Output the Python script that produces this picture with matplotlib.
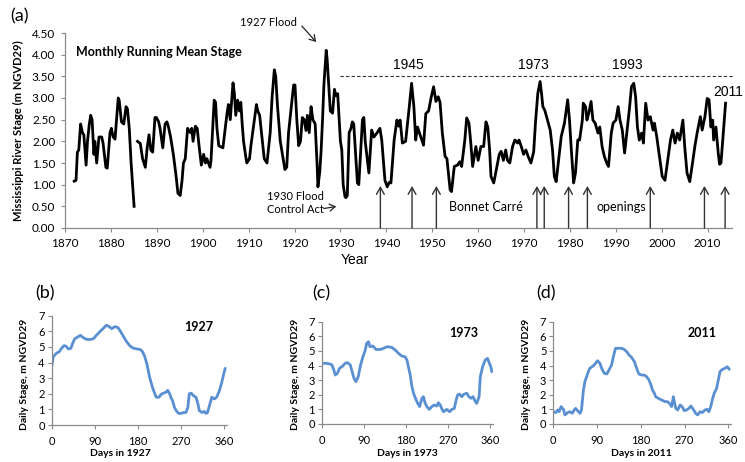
import numpy as np
import matplotlib
matplotlib.use("Agg")
import matplotlib.pyplot as plt

plt.rcParams['font.family'] = ['Lato', 'DejaVu Sans']

# ---------------- data: monthly running mean stage (panel a) ----------------
years_a1 = [1872.0, 1872.4, 1872.7, 1873.0, 1873.4, 1873.8, 1874.1, 1874.6, 1874.9, 1875.3,
            1875.6, 1875.9, 1876.3, 1876.5, 1876.9, 1877.4, 1878.0, 1878.3, 1878.9, 1879.2,
            1879.8, 1880.1, 1880.5, 1880.9, 1881.3, 1881.6, 1881.8, 1882.3, 1882.8, 1883.3,
            1883.6, 1884.0, 1884.4, 1885.05]
stage_a1 = [1.08, 1.10, 1.75, 1.80, 2.40, 2.20, 2.15, 1.45, 2.00, 2.40,
            2.60, 2.50, 1.70, 2.00, 1.50, 2.10, 2.10, 1.95, 1.40, 1.38,
            2.20, 2.30, 2.10, 2.05, 2.60, 3.00, 2.95, 2.45, 2.40, 2.80,
            2.75, 2.30, 1.50, 0.50]

years_a2 = [1885.8, 1886.4, 1886.9, 1887.2, 1887.5, 1887.9, 1888.3, 1888.7, 1889.1, 1889.6,
            1889.9, 1890.4, 1890.7, 1891.3, 1891.8, 1892.2, 1892.5, 1893.0, 1893.6, 1894.2,
            1894.6, 1895.1, 1895.5, 1895.8, 1896.2, 1896.7, 1897.3, 1897.6, 1897.9, 1898.4,
            1898.8, 1899.2, 1899.7, 1900.2, 1900.6, 1900.9, 1901.6, 1901.8, 1902.5, 1902.8,
            1903.1, 1903.5, 1904.4, 1905.3, 1905.6, 1906.0, 1906.6, 1906.9, 1907.2, 1907.6,
            1908.0, 1908.3, 1908.6, 1908.9, 1909.3, 1909.6, 1910.2, 1910.5, 1911.7, 1912.0,
            1912.4, 1912.8, 1913.4, 1914.0, 1914.7, 1915.1, 1915.6, 1915.9, 1916.3, 1916.9,
            1917.9, 1918.3, 1918.7, 1919.2, 1919.8, 1920.1, 1920.5, 1920.9, 1921.3, 1921.7,
            1922.1, 1922.5, 1922.8, 1923.2, 1923.6, 1924.0, 1924.5, 1924.9, 1925.1, 1925.5,
            1925.8, 1926.1, 1926.4, 1926.9, 1927.1, 1927.5, 1927.8, 1928.3, 1928.4, 1928.7,
            1929.0, 1929.4, 1930.0, 1930.3, 1930.6, 1931.0, 1931.2, 1931.5, 1931.9, 1932.3,
            1932.6, 1932.9, 1933.7, 1934.0, 1934.8, 1935.1, 1935.4, 1936.2, 1936.8, 1937.3,
            1938.0, 1938.6, 1939.0, 1939.7, 1940.2, 1940.6, 1941.0, 1941.7, 1942.3, 1942.7,
            1943.0, 1943.5, 1944.2, 1945.0, 1945.5, 1946.0, 1946.4, 1946.8, 1947.5, 1948.1,
            1948.6, 1949.2, 1949.8, 1950.3, 1950.8, 1951.3, 1951.7, 1952.2, 1952.8, 1953.2,
            1953.9, 1954.2, 1954.8, 1955.5, 1956.0, 1956.4, 1957.1, 1957.5, 1958.0, 1958.4,
            1958.8, 1959.5, 1960.0, 1960.6, 1961.2, 1961.7, 1962.1, 1962.5, 1962.8, 1963.4,
            1964.1, 1964.6, 1965.0, 1965.5, 1966.0, 1966.4, 1966.9, 1967.5, 1968.0, 1968.6,
            1968.9, 1969.4, 1969.9, 1970.4, 1970.9, 1971.5, 1972.1, 1972.5, 1973.0, 1973.5,
            1973.8, 1974.1, 1974.5, 1974.9, 1975.7, 1976.2, 1976.6, 1977.0, 1977.6, 1978.1,
            1978.8, 1979.5, 1979.9, 1980.3, 1980.8, 1981.2, 1981.7, 1982.1, 1982.7, 1982.9,
            1983.4, 1983.7, 1984.1, 1984.6, 1985.0, 1985.5, 1986.1, 1986.5, 1987.0, 1987.5,
            1988.0, 1988.4, 1989.0, 1989.4, 1990.0, 1990.5, 1990.9, 1991.4, 1991.9, 1992.3,
            1993.0, 1993.4, 1993.9, 1994.3, 1994.7, 1995.1, 1995.6, 1996.0, 1996.5, 1997.0,
            1997.5, 1998.1, 1998.4, 1998.9, 1999.5, 2000.1, 2000.7, 2001.4, 2001.9, 2002.4,
            2002.9, 2003.4, 2003.9, 2004.6, 2005.0, 2005.5, 2006.1, 2006.7, 2007.2, 2007.7,
            2008.4, 2008.8, 2009.4, 2009.9, 2010.3, 2010.7, 2011.1, 2011.3, 2011.8, 2012.3,
            2012.6, 2012.9, 2013.4, 2013.9]
stage_a2 = [2.00, 1.95, 1.60, 1.50, 1.40, 1.85, 2.15, 1.80, 1.75, 2.55,
            2.55, 2.45, 2.30, 1.85, 2.40, 2.45, 2.35, 2.10, 1.70, 1.20,
            0.80, 0.75, 1.10, 1.50, 1.60, 2.30, 2.20, 2.30, 2.00, 2.35,
            2.30, 1.90, 1.45, 1.70, 1.50, 1.60, 1.40, 1.55, 2.95, 2.90,
            2.30, 1.90, 1.85, 2.65, 2.85, 2.50, 3.35, 3.10, 2.60, 2.95,
            2.70, 2.90, 2.40, 2.00, 1.70, 1.50, 1.60, 1.90, 2.85, 2.70,
            2.60, 2.20, 1.60, 1.50, 2.20, 3.00, 3.65, 3.50, 2.80, 2.00,
            1.35, 1.40, 2.20, 2.70, 3.30, 3.30, 2.50, 1.90, 2.00, 2.55,
            2.50, 2.25, 2.60, 2.20, 2.80, 2.50, 2.40, 1.50, 0.95, 1.30,
            1.80, 2.50, 3.30, 4.10, 3.90, 3.20, 2.70, 2.65, 2.80, 3.20,
            3.05, 3.10, 2.00, 1.80, 1.00, 0.72, 0.70, 0.75, 2.20, 2.30,
            2.45, 2.40, 1.04, 1.00, 2.50, 2.55, 2.00, 1.27, 2.26, 2.10,
            2.20, 2.30, 2.03, 1.10, 0.95, 1.05, 1.04, 2.03, 2.49, 2.35,
            2.49, 1.96, 2.00, 2.80, 3.34, 2.80, 2.03, 2.33, 2.10, 1.91,
            2.64, 2.70, 3.03, 3.26, 2.92, 3.03, 2.90, 2.19, 1.65, 1.60,
            0.88, 0.84, 1.42, 1.45, 1.53, 1.42, 2.03, 2.54, 2.42, 1.96,
            1.42, 1.88, 1.56, 1.88, 1.88, 2.45, 2.33, 1.80, 1.19, 1.04,
            1.42, 1.70, 1.77, 1.56, 1.80, 1.56, 1.50, 1.88, 2.03, 1.96,
            2.03, 1.88, 1.70, 1.80, 1.65, 1.50, 1.76, 2.45, 3.11, 3.38,
            3.11, 2.80, 2.72, 2.57, 2.26, 1.80, 1.19, 1.07, 1.65, 2.11,
            2.42, 2.96, 2.49, 1.80, 1.04, 1.27, 2.03, 2.03, 2.49, 2.88,
            2.80, 2.49, 2.65, 2.92, 2.49, 2.42, 2.19, 2.33, 1.88, 1.65,
            1.50, 1.42, 2.19, 2.42, 2.49, 2.80, 2.49, 2.26, 1.73, 2.11,
            2.80, 3.26, 3.34, 3.03, 2.33, 2.03, 2.19, 1.96, 2.88, 2.49,
            2.57, 2.26, 2.42, 2.11, 1.65, 1.19, 1.10, 1.65, 2.03, 2.26,
            1.96, 2.19, 2.03, 2.49, 1.88, 1.27, 1.07, 1.50, 1.88, 2.19,
            2.57, 2.26, 2.57, 2.99, 2.96, 2.33, 2.49, 2.03, 2.33, 1.73,
            1.47, 1.50, 2.19, 2.88]

bonnet_carre_years = [1938.7, 1945.6, 1950.9, 1972.8, 1974.4, 1979.7, 1983.8, 1997.5, 2009.3, 2013.8]
flood_labels = ["1945", "1973", "1993", "2011"]

# ---------------- data: daily stage (panels b, c, d) ----------------
days_1927 = [0, 3.5, 10, 16, 21, 26, 30, 35, 40, 44, 48, 55, 60, 66, 73, 80, 87, 93, 100, 107,
             114, 120, 125, 132, 138, 143, 150, 157, 164, 171, 178, 185, 189, 194, 199, 204, 210,
             215, 218, 224, 228, 233, 239, 242, 246, 249, 252, 256, 260, 265, 270, 275, 280, 284,
             287, 291, 296, 301, 305, 308, 314, 318, 322, 325, 330, 334, 339, 344, 350, 355, 359, 362]
stage_1927 = [3.74, 4.39, 4.60, 4.70, 4.93, 5.09, 5.04, 4.87, 4.91, 5.26, 5.52, 5.65, 5.74, 5.59,
              5.48, 5.48, 5.52, 5.74, 5.96, 6.17, 6.39, 6.30, 6.17, 6.30, 6.24, 6.02, 5.65, 5.30,
              5.04, 4.91, 4.87, 4.83, 4.72, 4.39, 3.85, 3.09, 2.43, 2.00, 1.78, 1.78, 1.96, 2.04,
              2.11, 2.22, 2.00, 1.74, 1.56, 1.13, 0.91, 0.74, 0.74, 0.80, 0.80, 1.13, 2.00, 2.04,
              1.87, 1.78, 1.35, 0.91, 0.80, 0.87, 0.74, 0.80, 1.35, 1.78, 1.67, 1.78, 2.22, 2.76,
              3.30, 3.63]

days_1973 = [2, 10, 18, 22, 26, 29, 33.5, 38, 45, 50, 55, 61, 64, 69, 73, 78, 83, 88, 93, 96,
             100, 103, 109, 116, 125, 132, 140, 150, 157, 164, 171, 178, 182, 185, 189, 192, 196,
             201, 205, 209, 214, 217, 221, 224.5, 229.5, 235, 240, 246, 249, 253, 257, 260, 267,
             273, 278, 283, 287, 290, 294, 299, 304, 310, 314, 319, 323, 328, 331, 336, 338.6,
             343.5, 349, 354, 358, 361, 363]
stage_1973 = [4.15, 4.15, 4.10, 4.04, 3.69, 3.35, 3.47, 3.81, 3.97, 4.15, 4.20, 4.04, 3.69, 3.12,
              2.90, 3.24, 4.04, 4.60, 5.06, 5.52, 5.63, 5.29, 5.34, 5.10, 5.10, 5.18, 5.29, 5.24,
              5.06, 4.83, 4.65, 4.60, 4.38, 3.92, 3.35, 2.67, 2.10, 1.69, 1.41, 1.19, 1.76, 1.87,
              1.41, 1.19, 1.00, 1.19, 1.30, 1.23, 1.46, 1.30, 1.00, 0.84, 1.00, 0.84, 1.00, 1.07,
              1.64, 1.98, 2.05, 1.87, 2.05, 2.10, 1.87, 1.76, 1.87, 1.53, 1.41, 1.87, 3.24, 3.92,
              4.38, 4.49, 4.15, 3.92, 3.58]

days_2011 = [0, 5, 9, 12, 16, 21, 24, 29.5, 34, 39, 43, 46, 50, 55, 58, 62, 65, 71, 75, 82, 87,
             91, 96, 99.5, 105, 110, 114.5, 120, 123.5, 128, 134, 140.6, 146, 151, 156, 161, 167,
             171.5, 176, 182, 187, 192, 197, 201, 204, 208, 210.6, 216, 223, 230, 235, 240, 243.5,
             247, 249, 252, 256, 261, 265, 269.6, 274, 279, 283, 288, 293, 297, 302, 306.6, 312,
             317, 320, 324, 327, 331, 336, 339.5, 343, 348, 353, 358, 362]
stage_2011 = [0.84, 0.78, 0.96, 0.84, 1.19, 1.00, 0.62, 0.78, 0.84, 0.73, 0.96, 1.07, 0.91, 0.73,
              0.96, 2.33, 2.90, 3.47, 3.81, 3.97, 4.15, 4.33, 4.15, 3.81, 3.47, 3.42, 3.69, 4.04,
              4.60, 5.18, 5.18, 5.18, 5.10, 4.95, 4.72, 4.56, 4.26, 3.81, 3.42, 3.35, 3.35, 3.24,
              3.01, 2.67, 2.33, 2.10, 1.87, 1.76, 1.64, 1.53, 1.53, 1.37, 1.19, 1.87, 1.53, 1.07,
              0.96, 1.30, 1.19, 0.91, 0.96, 1.07, 1.23, 1.00, 0.73, 0.62, 0.84, 0.78, 0.96, 1.00,
              0.84, 1.19, 1.64, 2.10, 2.44, 3.01, 3.58, 3.74, 3.81, 3.92, 3.74]

# ---------------- figure ----------------
W, H = 745, 462
fig = plt.figure(figsize=(W / 100, H / 100), dpi=100)
fig.patch.set_facecolor('white')

def fx(px):
    return px / W

def fy(py):
    return 1 - py / H

SPINE = '#8a8a8a'
BLUE = '#5a8fd2'

def style_axes(ax, labsize):
    for s in ['top', 'right']:
        ax.spines[s].set_visible(False)
    for s in ['left', 'bottom']:
        ax.spines[s].set_color(SPINE)
        ax.spines[s].set_linewidth(0.9)
    ax.tick_params(direction='out', length=3, width=0.8, color=SPINE,
                   labelsize=labsize, labelcolor='black', pad=2)

# Panel (a)
axa = fig.add_axes([fx(65), fy(228), fx(732 - 65), (228 - 33) / H])
axa.plot(years_a1, stage_a1, color='black', lw=2.0, solid_joinstyle='round')
axa.plot(years_a2, stage_a2, color='black', lw=2.0, solid_joinstyle='round')
axa.set_xlim(1870, 2015.3)
axa.set_ylim(0, 4.5)
axa.set_xticks(np.arange(1870, 2011, 10))
axa.set_yticks(np.arange(0, 4.51, 0.5))
axa.set_yticklabels([f"{v:.2f}" for v in np.arange(0, 4.51, 0.5)])
style_axes(axa, 8.5)
axa.tick_params(axis='y', pad=4)
axa.tick_params(axis='x', pad=4)
axa.set_ylabel("Mississippi River Stage (m NGVD29)", fontsize=8, fontweight='bold', labelpad=6)

axa.plot([1929.9, 2015.5], [3.5, 3.5], color='#333333', lw=0.8,
         linestyle=(0, (3, 2)), clip_on=False)

for yr in bonnet_carre_years:
    axa.annotate('', xy=(yr, 0.97), xytext=(yr, 0.0),
                 arrowprops=dict(arrowstyle='->,head_length=0.5,head_width=0.28',
                                 color='#333333', lw=1.0, shrinkA=0, shrinkB=0))

# flood year labels
fig.text(fx(408), fy(65), flood_labels[0], family='Liberation Sans', fontsize=10,
         ha='center', va='center')
fig.text(fx(533), fy(65), flood_labels[1], family='Liberation Sans', fontsize=10,
         ha='center', va='center')
fig.text(fx(627), fy(65), flood_labels[2], family='Liberation Sans', fontsize=10,
         ha='center', va='center')
fig.text(fx(743), fy(92), flood_labels[3], family='Liberation Sans', fontsize=10,
         ha='right', va='center')

fig.text(fx(486), fy(207), "Bonnet Carré", fontsize=9, ha='center', va='center')
fig.text(fx(621), fy(207), "openings", fontsize=9, ha='center', va='center')

fig.text(fx(10), fy(16), "(a)", fontsize=13, ha='left', va='center')
fig.text(fx(76), fy(52), "Monthly Running Mean Stage", fontsize=9, fontweight='bold',
         ha='left', va='center')
fig.text(fx(240), fy(23), "1927 Flood", fontsize=8, ha='left', va='center')
fig.text(fx(267), fy(203), "1930 Flood\nControl Act", fontsize=8, ha='left', va='center',
         linespacing=1.15)
fig.text(fx(355), fy(260), "Year", family='Liberation Sans', fontsize=10,
         ha='center', va='center')

fig.add_artist(matplotlib.patches.FancyArrowPatch(
    (fx(300), fy(24)), (fx(318), fy(44)), transform=fig.transFigure,
    arrowstyle='->,head_length=4,head_width=2.5', color='#222222', lw=0.9))
fig.add_artist(matplotlib.patches.FancyArrowPatch(
    (fx(321), fy(209)), (fx(339), fy(206)), transform=fig.transFigure,
    arrowstyle='->,head_length=4,head_width=2.5', color='#222222', lw=0.9))

# Bottom panels
panels = [
    ("(b)", "1927", days_1927, stage_1927, 51.7, 226.7, 425, 315.7, 35, 184, 327, 120.5, 25),
    ("(c)", "1973", days_1973, stage_1973, 321.7, 492.7, 424, 321.7, 312.7, 449, 333, 407, 295),
    ("(d)", "2011", days_2011, stage_2011, 553.3, 730.7, 424, 321.7, 536.7, 688, 333, 641.7, 526.7),
]
for lab, yr, d, s, l, r, b, t, labx, yrx, yry, xlx, ylx in panels:
    ax = fig.add_axes([fx(l), fy(b), (r - l) / W, (b - t) / H])
    ax.plot(d, s, color=BLUE, lw=2.0, solid_joinstyle='round', solid_capstyle='round')
    ax.set_xlim(0, 365)
    ax.set_ylim(0, 7)
    ax.set_xticks([0, 90, 180, 270, 360])
    ax.set_yticks(range(0, 8))
    style_axes(ax, 8)
    ax.tick_params(axis='x', pad=5)
    fig.text(fx(labx), fy(293), lab, fontsize=13, ha='left', va='center')
    fig.text(fx(yrx), fy(yry), yr, fontsize=9, fontweight='bold', ha='left', va='center')
    fig.text(fx(xlx), fy(453), f"Days in {yr}", fontsize=7.5, fontweight='bold',
             ha='center', va='center')
    fig.text(fx(ylx), fy(374), "Daily Stage, m NGVD29", fontsize=7.5, fontweight='bold',
             ha='center', va='center', rotation=90)

fig.savefig("out.png", dpi=100)
